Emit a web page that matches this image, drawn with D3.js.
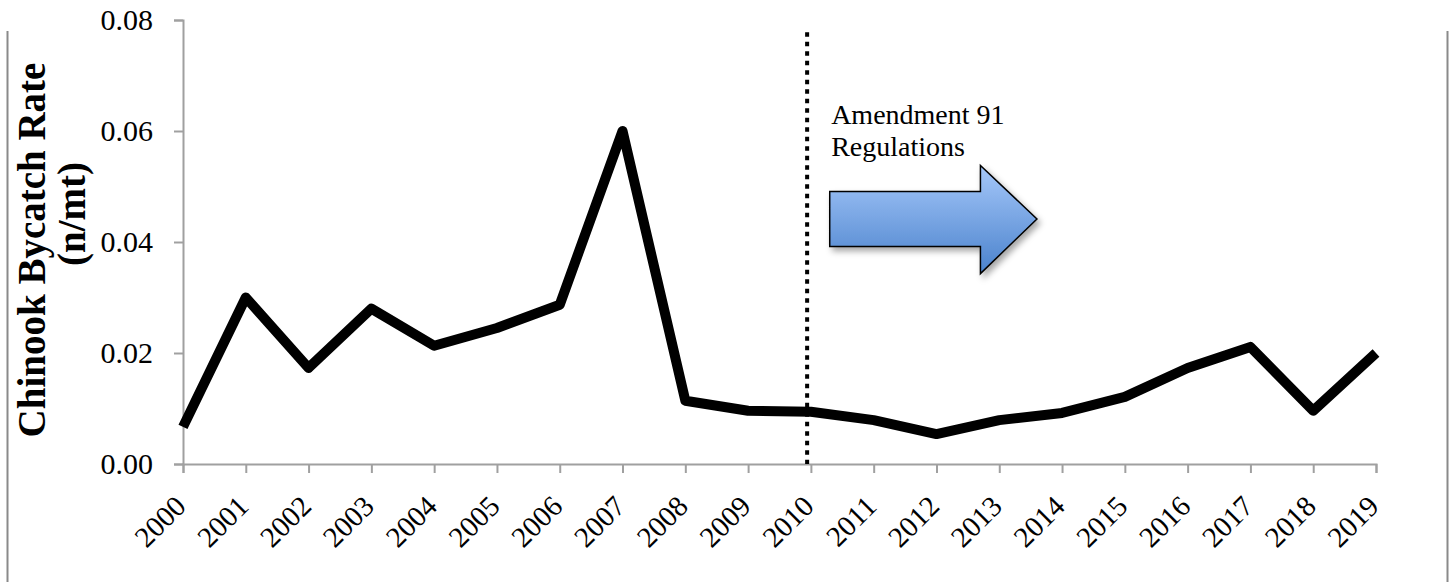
<!DOCTYPE html>
<html><head><meta charset="utf-8">
<script src="https://cdn.jsdelivr.net/npm/d3@7"></script>
<style>
html,body{margin:0;padding:0;background:#fff;}
svg{display:block;font-family:"Liberation Serif","Times New Roman",serif;}
</style></head>
<body>
<svg id="c" width="1454" height="582"></svg>
<script>
const years = [2000,2001,2002,2003,2004,2005,2006,2007,2008,2009,2010,2011,2012,2013,2014,2015,2016,2017,2018,2019];
const rates = [0.0067,0.0300,0.0173,0.0280,0.0213,0.0245,0.0287,0.0600,0.0114,0.0096,0.0094,0.0079,0.0054,0.0079,0.0092,0.0121,0.0173,0.0211,0.0096,0.0200];
const yTicks = [0,0.02,0.04,0.06,0.08];
const yTitle = ["Chinook Bycatch Rate","(n/mt)"];
const annotationYear = 2009.94;
const annotationText = ["Amendment 91","Regulations"];
// arrow in data units: [startYear, headBaseYear, tipYear], [bodyLow, bodyHigh, headLow, headHigh]
const arrowYears = [2010.3, 2012.7, 2013.6];
const arrowRates = [0.0392, 0.0491, 0.0343, 0.0538];

const svg = d3.select("#c");
const m = {l:183, r:1376, t:20, b:464};
const x = d3.scaleLinear().domain([2000,2019]).range([m.l,m.r]);
const y = d3.scaleLinear().domain([0,0.08]).range([m.b,m.t]);

// frame sides
svg.append("line").attr("x1",7.5).attr("x2",7.5).attr("y1",31).attr("y2",582).attr("stroke","#8a8a8a").attr("stroke-width",2);
svg.append("line").attr("x1",1447.5).attr("x2",1447.5).attr("y1",31).attr("y2",582).attr("stroke","#8a8a8a").attr("stroke-width",2);

const gy = svg.append("g").attr("transform",`translate(${m.l},0)`)
  .call(d3.axisLeft(y).tickValues(yTicks).tickFormat(d3.format(".2f")).tickSizeOuter(0).tickSize(9).tickPadding(21));
gy.attr("font-size",30).attr("font-family","Liberation Serif");
gy.select(".domain").attr("stroke","#a0a0a0").attr("stroke-width",2);
gy.selectAll(".tick line").attr("stroke","#a0a0a0").attr("stroke-width",2);
gy.selectAll("text").attr("fill","#000");

const gx = svg.append("g").attr("transform",`translate(0,${m.b})`)
  .call(d3.axisBottom(x).tickValues(years).tickFormat(d3.format("d")).tickSizeOuter(0).tickSize(9));
gx.attr("font-size",29).attr("font-family","Liberation Serif");
gx.select(".domain").attr("stroke","#a0a0a0").attr("stroke-width",2);
gx.selectAll(".tick line").attr("stroke","#a0a0a0").attr("stroke-width",2);
gx.selectAll("text").attr("fill","#000")
  .attr("text-anchor","end").attr("dy",null).attr("y",0)
  .attr("transform","translate(4,44) rotate(-45)");

// y title
const titlePos = [[45,250],[85,214]];
yTitle.forEach((t,i)=>{
  svg.append("text").attr("transform",`translate(${titlePos[i][0]},${titlePos[i][1]}) rotate(-90)`)
    .attr("text-anchor","middle").attr("font-size",39).attr("font-weight","bold").text(t);
});

// dotted line
svg.append("line").attr("x1",x(annotationYear)).attr("x2",x(annotationYear)).attr("y1",y(0.0778)).attr("y2",y(0))
  .attr("stroke","#000").attr("stroke-width",4).attr("stroke-dasharray","4.5,5");

// annotation text
annotationText.forEach((t,i)=>{
  svg.append("text").attr("x",x(annotationYear)+24).attr("y",y(0.0612)+i*32)
    .attr("font-size",28).attr("fill","#000").text(t);
});

// arrow
const defs = svg.append("defs");
const grad = defs.append("linearGradient").attr("id","ag").attr("x1",0).attr("y1",0).attr("x2",0).attr("y2",1);
grad.append("stop").attr("offset","0%").attr("stop-color","#a6c8fa");
grad.append("stop").attr("offset","100%").attr("stop-color","#4a82cc");
const flt = defs.append("filter").attr("id","sh").attr("x","-20%").attr("y","-20%").attr("width","150%").attr("height","150%");
flt.append("feDropShadow").attr("dx",3).attr("dy",4).attr("stdDeviation",3).attr("flood-color","#000").attr("flood-opacity",0.35);
const [ax0,ax1,ax2] = arrowYears.map(x);
const [b0,b1,h0,h1] = arrowRates.map(y);
const mid = (b0+b1)/2;
svg.append("path").attr("d",`M${ax0},${b1}L${ax1},${b1}L${ax1},${h1}L${ax2},${mid}L${ax1},${h0}L${ax1},${b0}L${ax0},${b0}Z`)
  .attr("fill","url(#ag)").attr("stroke","#000").attr("stroke-width",1.5).attr("filter","url(#sh)");

// line
svg.append("path").datum(years.map((yr,i)=>[yr,rates[i]]))
  .attr("d",d3.line().x(d=>x(d[0])).y(d=>y(d[1])))
  .attr("fill","none").attr("stroke","#000").attr("stroke-width",10).attr("stroke-linejoin","round");
</script>
</body></html>
